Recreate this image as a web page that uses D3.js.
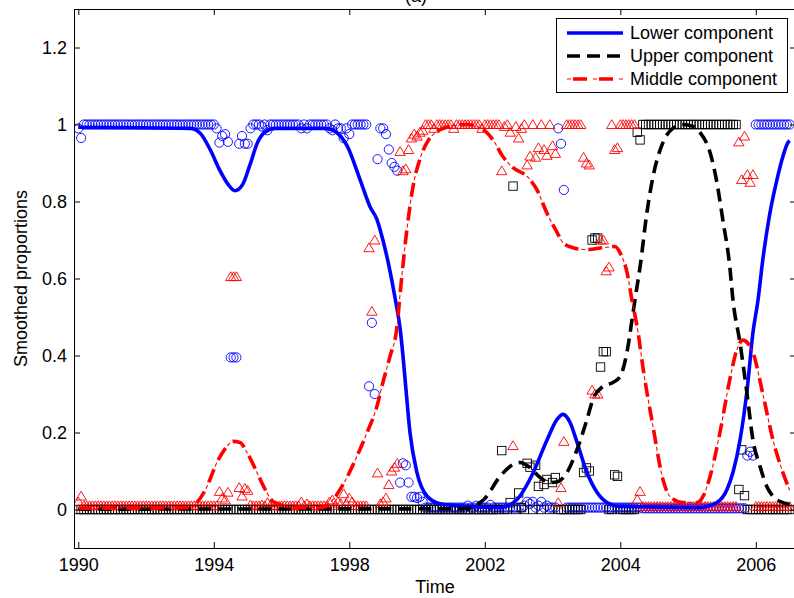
<!DOCTYPE html>
<html><head><meta charset="utf-8">
<script src="https://cdn.jsdelivr.net/npm/d3@7"></script>
<style>body{margin:0;background:#fff}svg{display:block}text{font-family:"Liberation Sans",Arial,sans-serif}</style>
</head><body><svg id="chart" width="794" height="598"></svg>
<script>
// ---- data ----
const xTickPos = [0, 48, 96, 144, 192, 240];
const xTickLabels = ["1990", "1994", "1998", "2002", "2004", "2006"];
const yTicks = [0, 0.2, 0.4, 0.6, 0.8, 1, 1.2];
const yTickLabels = ["0", "0.2", "0.4", "0.6", "0.8", "1", "1.2"];
const seriesNames = ["Lower component", "Upper component", "Middle component"];

// observed proportions (one per time index)
const lowerObs = [
0.99,0.965,1,1,1,1,1,1,1,1,
1,1,1,1,1,1,1,1,1,1,
1,1,1,1,1,1,1,1,1,1,
1,1,1,1,1,1,1,1,1,1,
1,1,1,1,1,1,1,1,1,0.99,
0.953,0.97,0.975,0.955,0.395,0.395,0.395,0.95,0.97,0.95,
0.95,0.99,1,1,1,0.995,1,0.985,1,1,
1,1,1,1,1,1,1,1,1,0.99,
1,0.99,1,1,1,1,1,1,1,0.99,
0.985,1,0.99,0.99,0.965,0.99,0.975,1,1,1,
1,1,1,0.32,0.485,0.3,0.91,0.99,0.99,0.975,
0.935,0.9,0.89,0.88,0.07,0.12,0.115,0.07,0.033,0.033,
0.03,0.033,0.02,0.005,0.005,0.005,0.005,0.005,0.005,0.005,
0.005,0.005,0.005,0.005,0.005,0.005,0.005,0.005,0.01,0.005,
0.005,0.01,0.005,0.005,0.005,0.005,0.012,0.005,0.005,0.005,
0.005,0.005,0.005,0.005,0.005,0.005,0.005,0.005,0.01,0.02,
0.015,0.02,0.005,0.01,0.02,0.005,0.01,0.005,0.005,0.005,
0.99,0.95,0.83,0.005,0.005,0.005,0.005,0.005,0.005,0.005,
0.005,0.005,0.005,0.005,0.005,0.005,0.005,0.005,0.005,0.005,
0.005,0.005,0.005,0.005,0.005,0.005,0.005,0.005,0.005,0.005,
0.003,0.003,0.003,0.003,0.003,0.003,0.003,0.003,0.003,0.003,
0.003,0.003,0.003,0.003,0.003,0.003,0.003,0.003,0.003,0.003,
0.003,0.003,0.003,0.003,0.003,0.003,0.003,0.003,0.003,0.003,
0.003,0.003,0.003,0.003,0.003,0.003,0.003,0.14,0.15,0.14,
1,1,1,1,1,1,1,1,1,1,
1,1,1];
const upperObs = [
0,0,0,0,0,0,0,0,0,0, 0,0,0,0,0,0,0,0,0,0,
0,0,0,0,0,0,0,0,0,0, 0,0,0,0,0,0,0,0,0,0,
0,0,0,0,0,0,0,0,0,0, 0,0,0,0,0,0,0,0,0,0,
0,0,0,0,0,0,0,0,0,0, 0,0,0,0,0,0,0,0,0,0,
0,0,0,0,0,0,0,0,0,0, 0,0,0,0,0,0,0,0,0,0,
0,0,0,0,0,0,0,0,0,0, 0,0,0,0,0,0,0,0,0,0,
0,0,0,0,0,0,0,0,0,0, 0,0,0,0,0,0,0,0,0,0,
0,0,0,0,0,0,0,0,0,0,
0.153,0,0,0.018,0.84,0,0.043,0.005,0,0.12,
0.11,0,0.115,0.06,0,0.065,0.078,0,0.07,0.083,
0,0,0,0,0,0,0,0,0,0.096,
0.108,0.1,0.7,0.705,0.705,0.37,0.41,0.41,0,0,
0.09,0.086,0,0,0,0,0,0,0.98,0.96,
1,1,1,1,1,1,1,1,1,1,
1,1,1,1,1,1,1,1,1,1,
1,1,1,1,1,1,1,1,1,1,
1,1,1,1,0.052,0.155,0.036,0,0,0,
0,0,0,0,0,0,0,0,0,0,
0,0,0];
const middleObs = [
0.02,0.035,0.01,0.01,0.01,0.01,0.01,0.01,0.01,0.01,
0.01,0.01,0.01,0.01,0.01,0.01,0.01,0.01,0.01,0.01,
0.01,0.01,0.01,0.01,0.01,0.01,0.01,0.01,0.01,0.01,
0.01,0.01,0.01,0.01,0.01,0.01,0.01,0.01,0.01,0.01,
0.01,0.01,0.01,0.01,0.01,0.01,0.01,0.01,0.01,0.01,
0.047,0.03,0.025,0.045,0.605,0.605,0.605,0.057,0.035,0.055,
0.05,0.012,0.01,0.01,0.01,0.012,0.01,0.018,0.01,0.01,
0.01,0.01,0.01,0.01,0.01,0.01,0.01,0.01,0.01,0.02,
0.01,0.015,0.01,0.01,0.01,0.01,0.01,0.01,0.01,0.02,
0.025,0.01,0.02,0.015,0.041,0.015,0.03,0.02,0.01,0.01,
0.01,0.01,0.01,0.68,0.515,0.7,0.095,0.015,0.02,0.03,
0.065,0.1,0.11,0.12,0.93,0.88,0.885,0.935,0.965,0.975,
0.97,0.98,0.985,1,1,1,0.99,1,1,1,
1,1,1,0.99,1,1,1,1,1,1,
1,1,1,0.99,1,1,1,1,1,1,
0.88,0.995,1,0.98,0.166,0.995,0.965,0.99,1,0.895,
0.918,1,0.915,0.94,1,0.935,0.92,1,0.945,0.925,
0.018,0.057,0.177,1,1,1,1,1,1,0.915,
0.9,0.895,0.31,0.3,0.3,0.7,0.7,0.62,0.63,1,
0.935,0.94,1,1,1,1,1,1,0.026,0.047,
0.008,0.008,0.008,0.008,0.008,0.008,0.008,0.008,0.008,0.008,
0.008,0.008,0.008,0.008,0.008,0.008,0.008,0.008,0.008,0.008,
0.008,0.008,0.008,0.008,0.008,0.008,0.008,0.008,0.008,0.008,
0.008,0.008,0.008,0.008,0.955,0.857,0.97,0.87,0.85,0.87,
0.008,0.008,0.008,0.008,0.008,0.008,0.008,0.008,0.008,0.008,
0.008,0.008,0.008];

// smoothed proportions (knots: time index, value)
const lowerT = [0,39.6,43.1,46.7,50.2,53,55.5,58.3,60.8,63.6,66.1,69.7,87.4,90.3,95.2,99.8,103.3,105.8,107.9,110.4,112.2,114,115,116.1,117.5,120,123.5,128.1,137.7,149.4,155.4,161.1,166,169.6,171.7,174.2,176.7,180.2,183.8,187.3,191.9,220.2,226.2,229.8,231.9,234.4,236.9,239,240.8,242.5,245,247.5,249.6,251.4,252];
const lowerV = [0.993,0.99,0.978,0.935,0.88,0.845,0.828,0.845,0.895,0.955,0.98,0.99,0.99,0.985,0.945,0.857,0.787,0.753,0.70,0.62,0.55,0.47,0.40,0.31,0.20,0.095,0.035,0.015,0.008,0.005,0.026,0.095,0.18,0.234,0.247,0.226,0.174,0.096,0.044,0.018,0.008,0.005,0.018,0.052,0.096,0.18,0.31,0.46,0.545,0.65,0.77,0.857,0.917,0.953,0.958];
const upperT = [0,137,142.3,143.7,149.4,154,156.4,160,163.6,167.1,170,173.1,176.7,180.2,182.3,185.9,189.4,191.9,194.4,196.1,197.2,199,201.4,203.6,207.1,210.6,214.2,217.7,220.2,223.8,226.2,228.3,230.8,231.9,234.4,236.9,239,241.5,243.9,246.1,249.6,252];
const upperV = [0.001,0.002,0.018,0.026,0.086,0.117,0.122,0.109,0.083,0.07,0.073,0.096,0.156,0.234,0.286,0.32,0.33,0.345,0.41,0.49,0.545,0.63,0.77,0.865,0.953,0.99,1.0,0.995,0.98,0.927,0.85,0.753,0.63,0.545,0.433,0.30,0.18,0.112,0.06,0.034,0.018,0.013];
const middleT = [0,39.6,42,45.6,49.1,52.7,54.8,57.3,59.8,63.3,66.8,68.9,72.5,75,86.3,90.3,93.8,98.7,102.3,105.8,107.9,110.4,112.9,114,116.4,118.6,121,123.5,127.1,131.7,137.7,143.3,146.9,150.4,154,159,162.5,166,169.6,171.7,175.2,180.2,185.9,190.1,191.9,194.4,196.1,198.3,200,203.6,207.1,209.6,214.2,219.2,221.3,223.8,227.3,230.8,233.3,235.4,239,242.5,246.1,249.6,252];
const middleV = [0.003,0.005,0.018,0.06,0.122,0.164,0.177,0.174,0.148,0.096,0.044,0.021,0.01,0.005,0.005,0.026,0.065,0.138,0.20,0.268,0.33,0.397,0.475,0.56,0.727,0.84,0.91,0.953,0.982,0.995,1.0,0.987,0.96,0.917,0.888,0.865,0.83,0.77,0.72,0.693,0.68,0.675,0.68,0.683,0.667,0.615,0.545,0.46,0.37,0.215,0.078,0.034,0.018,0.018,0.034,0.086,0.2,0.338,0.415,0.44,0.407,0.30,0.18,0.096,0.05];

if (lowerObs.length !== 253 || upperObs.length !== 253 || middleObs.length !== 253) {
  throw new Error("length " + lowerObs.length + " " + upperObs.length + " " + middleObs.length);
}

// ---- layout ----
const svg = d3.select("#chart");
const L = 74, R = 796, T = 9, B = 548;
const x = d3.scaleLinear().domain([-1.52, 254.24]).range([L, R]);
const y = d3.scaleLinear().domain([-0.1, 1.3]).range([B, T]);
const FS = "18px";

svg.append("defs").append("clipPath").attr("id", "clip")
  .append("rect").attr("x", L).attr("y", T).attr("width", R - L).attr("height", B - T);

const plot = svg.append("g").attr("clip-path", "url(#clip)");
const idx = d3.range(lowerObs.length);

// markers
plot.append("g").selectAll("circle").data(idx).join("circle")
  .attr("cx", i => x(i)).attr("cy", i => y(lowerObs[i])).attr("r", 4.6)
  .attr("fill", "none").attr("stroke", "#0000ff").attr("stroke-width", 0.9);
plot.append("g").selectAll("rect").data(idx).join("rect")
  .attr("x", i => x(i) - 4.2).attr("y", i => y(upperObs[i]) - 4.2)
  .attr("width", 8.4).attr("height", 8.4)
  .attr("fill", "none").attr("stroke", "#000").attr("stroke-width", 0.9);
const tri = "M0,-4.8L5.2,4L-5.2,4Z";
plot.append("g").selectAll("path").data(idx).join("path")
  .attr("d", tri).attr("transform", i => `translate(${x(i)},${y(middleObs[i])})`)
  .attr("fill", "none").attr("stroke", "#ff0000").attr("stroke-width", 0.9);

// smoothed lines
const line = d3.line().x(d => x(d[0])).y(d => y(d[1])).curve(d3.curveMonotoneX);
const zip = (a, b) => a.map((t, i) => [t, b[i]]);
plot.append("path").attr("d", line(zip(lowerT, lowerV)))
  .attr("fill", "none").attr("stroke", "#0000ff").attr("stroke-width", 3.6);
plot.append("path").attr("d", line(zip(upperT, upperV)))
  .attr("fill", "none").attr("stroke", "#000").attr("stroke-width", 3.6)
  .attr("stroke-dasharray", "13,7");
const midD = line(zip(middleT, middleV));
plot.append("path").attr("d", midD)
  .attr("fill", "none").attr("stroke", "#ff0000").attr("stroke-width", 3.6)
  .attr("stroke-dasharray", "14,10");
plot.append("path").attr("d", midD)
  .attr("fill", "none").attr("stroke", "#ff0000").attr("stroke-width", 1.1)
  .attr("stroke-dasharray", "0,17,4,3");

// axes
const ax = svg.append("g");
ax.append("g").attr("transform", `translate(0,${B})`)
  .call(d3.axisBottom(x).tickValues(xTickPos).tickFormat((d, i) => xTickLabels[i])
    .tickSizeInner(-6).tickSizeOuter(0).tickPadding(10));
ax.append("g").attr("transform", `translate(0,${T})`)
  .call(d3.axisTop(x).tickValues(xTickPos).tickFormat("").tickSizeInner(-6).tickSizeOuter(0));
ax.append("g").attr("transform", `translate(${L},0)`)
  .call(d3.axisLeft(y).tickValues(yTicks).tickFormat((d, i) => yTickLabels[i])
    .tickSizeInner(-6).tickSizeOuter(0).tickPadding(7));
ax.append("g").attr("transform", `translate(${R},0)`)
  .call(d3.axisRight(y).tickValues(yTicks).tickFormat("").tickSizeInner(-6).tickSizeOuter(0));
ax.selectAll(".domain").remove();
ax.selectAll("line").attr("stroke", "#000");
ax.selectAll("text").attr("font-size", FS).attr("fill", "#000")
  .attr("font-family", "'Liberation Sans', Arial, sans-serif");
svg.append("rect").attr("x", L + 0.5).attr("y", T + 0.5).attr("width", R - L).attr("height", B - T)
  .attr("fill", "none").attr("stroke", "#000").attr("stroke-width", 1);

// titles
svg.append("text").attr("x", 416).attr("y", 2).attr("text-anchor", "middle")
  .attr("font-size", FS).text("(a)");
svg.append("text").attr("x", (L + R) / 2).attr("y", 593).attr("text-anchor", "middle")
  .attr("font-size", FS).text("Time");
svg.append("text").attr("transform", `translate(27,${(T + B) / 2}) rotate(-90)`)
  .attr("text-anchor", "middle").attr("font-size", FS).text("Smoothed proportions");

// legend
const lg = svg.append("g");
lg.append("rect").attr("x", 556.5).attr("y", 18.5).attr("width", 231).attr("height", 74)
  .attr("fill", "#fff").attr("stroke", "#000").attr("stroke-width", 1);
const rows = [33, 56, 79];
const styles = [
  [{c: "#0000ff", w: 3.6, d: null}],
  [{c: "#000", w: 3.6, d: "13,7"}],
  [{c: "#ff0000", w: 3.6, d: "0,6,14,6"}, {c: "#ff0000", w: 1.1, d: "4,22"}]
];
seriesNames.forEach((name, i) => {
  styles[i].forEach(s => {
    const l = lg.append("line").attr("x1", 567).attr("x2", 623).attr("y1", rows[i]).attr("y2", rows[i])
      .attr("stroke", s.c).attr("stroke-width", s.w);
    if (s.d) l.attr("stroke-dasharray", s.d);
  });
  lg.append("text").attr("x", 630).attr("y", rows[i]).attr("dy", "0.35em")
    .attr("font-size", FS).text(name);
});
</script></body></html>
